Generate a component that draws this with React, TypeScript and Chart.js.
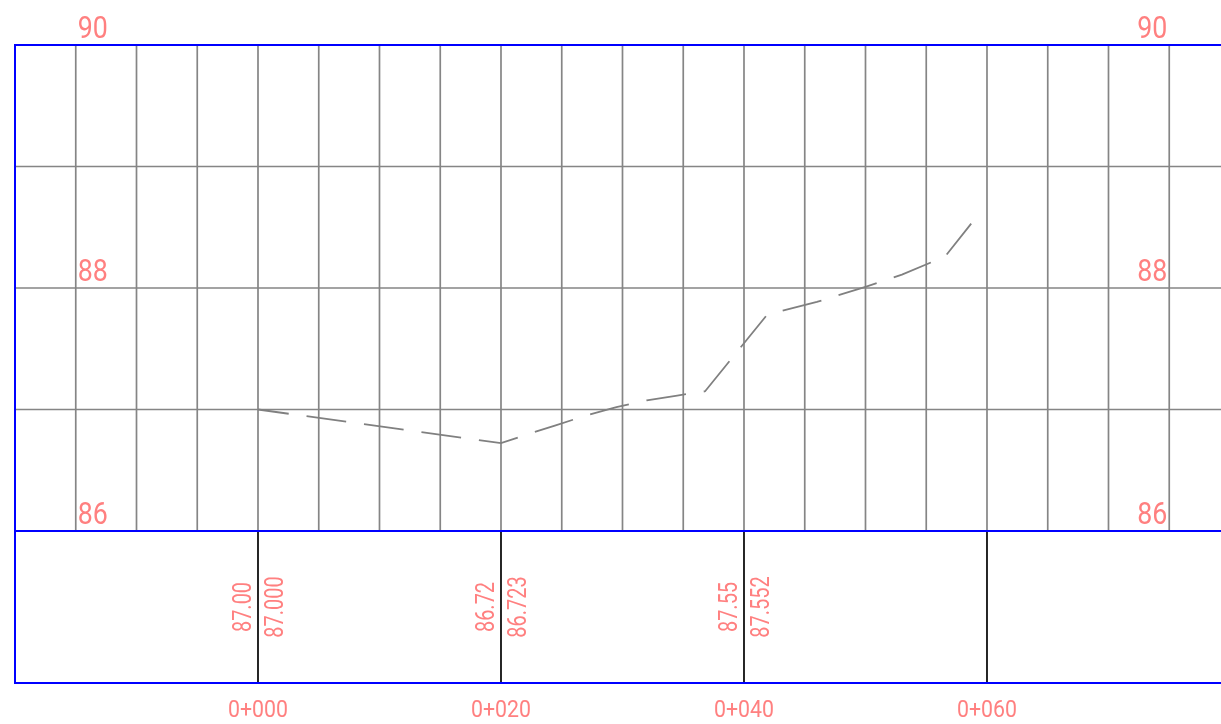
import React, { useEffect, useRef } from "react";
import { Chart, registerables } from "chart.js";

Chart.register(...registerables);

// ---- data ----
const profileStations = [0, 20, 22, 24.5, 27, 29.5, 32, 34.5, 36.8, 41.9, 46, 50, 53, 56.56, 58.7];
const profileElevations = [87.0, 86.723, 86.79, 86.87, 86.95, 87.02, 87.075, 87.115, 87.15, 87.78, 87.885, 88.01, 88.11, 88.26, 88.53];

const stationTicks = [0, 20, 40, 60];
const stationLabels = ["0+000", "0+020", "0+040", "0+060"];
const designElevLabels = ["87.00", "86.72", "87.55", ""];
const groundElevLabels = ["87.000", "86.723", "87.552", ""];

const elevationGridValues = [89, 88, 87];
const elevationLabelValues = [90, 88, 86];

const X_MIN = -20;
const X_MAX = 79.26;
const GRID_STEP = 5;
const Y_TOP = 90;
const Y_GRID_BOTTOM = 86;
const Y_MIN = 84.749;

const TEXT_COLOR = "#ff8080";
const GRID_COLOR = "#858585";
const BLUE = "#0000ff";

function drawText(
  ctx: CanvasRenderingContext2D,
  text: string,
  x: number,
  y: number,
  font: string,
  align: CanvasTextAlign,
  sx: number,
  rotate = false
) {
  ctx.save();
  ctx.translate(x, y);
  if (rotate) ctx.rotate(-Math.PI / 2);
  ctx.scale(sx, 1);
  ctx.font = font;
  ctx.fillStyle = TEXT_COLOR;
  ctx.textAlign = align;
  ctx.textBaseline = "alphabetic";
  ctx.fillText(text, 0, 0);
  ctx.restore();
}

const profilePlugin = {
  id: "profileGrid",
  beforeDatasetsDraw(chart: any) {
    const { ctx, chartArea } = chart;
    const xs = chart.scales.x;
    const ys = chart.scales.y;
    const yTop = ys.getPixelForValue(Y_TOP);
    const yMid = ys.getPixelForValue(Y_GRID_BOTTOM);
    const yBot = ys.getPixelForValue(Y_MIN);
    ctx.save();
    ctx.lineCap = "butt";
    // gray vertical grid
    ctx.strokeStyle = GRID_COLOR;
    ctx.lineWidth = 1.7;
    for (let s = X_MIN + GRID_STEP; s < X_MAX; s += GRID_STEP) {
      const x = xs.getPixelForValue(s);
      ctx.beginPath();
      ctx.moveTo(x, yTop);
      ctx.lineTo(x, yMid);
      ctx.stroke();
    }
    // gray horizontal grid
    for (const v of elevationGridValues) {
      const y = ys.getPixelForValue(v);
      ctx.beginPath();
      ctx.moveTo(chartArea.left, y);
      ctx.lineTo(chartArea.right, y);
      ctx.stroke();
    }
    // black station lines in lower band
    ctx.strokeStyle = "#000000";
    ctx.lineWidth = 1.7;
    for (const s of stationTicks) {
      const x = xs.getPixelForValue(s);
      ctx.beginPath();
      ctx.moveTo(x, yMid);
      ctx.lineTo(x, yBot);
      ctx.stroke();
    }
    // blue frame
    ctx.strokeStyle = BLUE;
    ctx.lineWidth = 2;
    ctx.beginPath();
    ctx.moveTo(chartArea.right + 2, yTop);
    ctx.lineTo(chartArea.left, yTop);
    ctx.lineTo(chartArea.left, yBot);
    ctx.lineTo(chartArea.right + 2, yBot);
    ctx.moveTo(chartArea.left, yMid);
    ctx.lineTo(chartArea.right + 2, yMid);
    ctx.stroke();
    ctx.restore();
  },
  afterDraw(chart: any) {
    const { ctx } = chart;
    const xs = chart.scales.x;
    const ys = chart.scales.y;
    const yMid = ys.getPixelForValue(Y_GRID_BOTTOM);
    const yBot = ys.getPixelForValue(Y_MIN);
    const fam = "Roboto, 'Noto Sans', sans-serif";
    // elevation labels
    const xLeft = xs.getPixelForValue(X_MIN + GRID_STEP) + 2;
    const xRight = xs.getPixelForValue(75) - 2;
    for (const v of elevationLabelValues) {
      const y = ys.getPixelForValue(v) - 7.5;
      drawText(ctx, String(v), xLeft, y, `400 31.5px ${fam}`, "left", 0.85);
      drawText(ctx, String(v), xRight, y, `400 31.5px ${fam}`, "right", 0.85);
    }
    // station labels + band values
    const yc = (yMid + yBot) / 2;
    stationTicks.forEach((s, i) => {
      const x = xs.getPixelForValue(s);
      drawText(ctx, stationLabels[i], x, yBot + 34, `400 24.5px ${fam}`, "center", 0.87);
      if (designElevLabels[i]) {
        drawText(ctx, designElevLabels[i], x - 7, yc, `400 25.3px ${fam}`, "center", 0.79, true);
      }
      if (groundElevLabels[i]) {
        drawText(ctx, groundElevLabels[i], x + 25.5, yc, `400 25.3px ${fam}`, "center", 0.79, true);
      }
    });
  },
};

export default function App() {
  const ref = useRef<HTMLCanvasElement | null>(null);
  useEffect(() => {
    if (!ref.current) return;
    const points = profileStations.map((s, i) => ({ x: s, y: profileElevations[i] }));
    const chart = new Chart(ref.current, {
      type: "scatter",
      data: {
        datasets: [
          {
            data: points,
            showLine: true,
            borderColor: "#808080",
            borderWidth: 1.8,
            borderDash: [40, 18],
            borderDashOffset: 9,
            pointRadius: 0,
            tension: 0,
            fill: false,
          },
        ],
      },
      options: {
        responsive: false,
        maintainAspectRatio: false,
        animation: false,
        events: [],
        layout: { autoPadding: false, padding: { left: 15, top: 45, right: 0, bottom: 41 } },
        scales: {
          x: { type: "linear", min: X_MIN, max: X_MAX, display: false },
          y: { type: "linear", min: Y_MIN, max: Y_TOP, display: false },
        },
        plugins: { legend: { display: false }, tooltip: { enabled: false } },
      },
      plugins: [profilePlugin],
    } as any);
    return () => chart.destroy();
  }, []);
  return (
    <div style={{ position: "fixed", left: 0, top: 0, width: 1221, height: 724, background: "#ffffff" }}>
      <canvas ref={ref} width={1221} height={724} style={{ display: "block" }} />
    </div>
  );
}
